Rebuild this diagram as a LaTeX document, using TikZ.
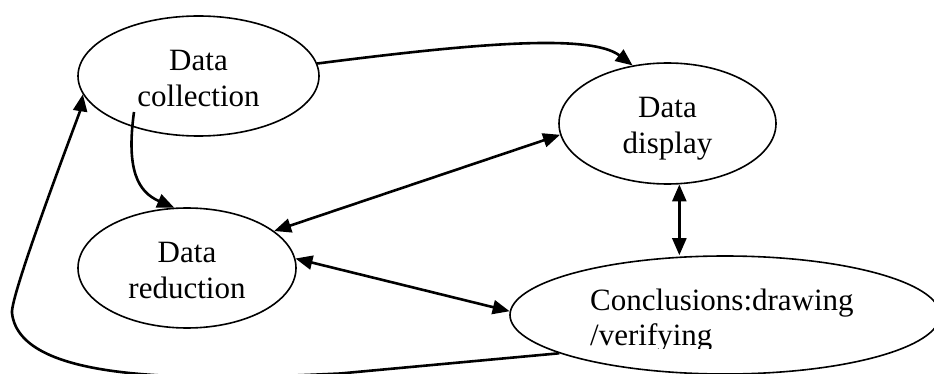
\documentclass[tikz,border=0pt]{standalone}
\usepackage{fontspec}
\setmainfont{Liberation Serif}
\usetikzlibrary{arrows.meta,shapes.geometric,calc}
\begin{document}
\begin{tikzpicture}[x=1pt,y=-1pt,
  ell/.style={draw, ellipse, line width=1.6pt, inner sep=0pt},
  lbl/.style={align=center, font=\fontsize{31}{36}\selectfont, inner sep=0pt},
  conn/.style={line width=2.6pt},
  >={Triangle[length=17pt,width=14pt]}]
\useasboundingbox (0,0) rectangle (934,374);
\fill[white] (0,0) rectangle (934,374);
\clip (0,0) rectangle (934,374);
% ellipses
\node[ell, minimum width=241pt, minimum height=120pt] (coll) at (198.5,76) {};
\node[ell, minimum width=217pt, minimum height=121pt] (disp) at (667.5,123.5) {};
\node[ell, minimum width=218pt, minimum height=120pt] (red) at (187,268) {};
\node[ell, minimum width=430pt, minimum height=118pt] (concl) at (725,315) {};
% texts
\node[lbl] (colltxt) at (198.5,81) {\strut Data\\\strut collection};
\node[lbl] (disptxt) at (667.5,128.5) {\strut Data\\\strut display};
\node[lbl] (redtxt) at (187,273) {\strut Data\\\strut reduction};
\begin{scope}
\clip (0,0) rectangle (934,348);
\node[lbl, anchor=base west] (concltxtA) at (590,310) {Conclusions:drawing};
\node[lbl, anchor=base west] (concltxtB) at (590,345) {/verifying};
\end{scope}
% connectors
\coordinate (cstart) at (134,112);
\draw[conn,->] (coll.6) .. controls (470,44) and (590,33) .. (disp.121);
\draw[conn,->] (cstart) .. controls (126,170) and (138,192) .. (red.102);
\draw[conn,<->] (disp.186) -- (red.23);
\draw[conn,<->] (disp.281) -- (disp.281 |- concl.north);
\draw[conn,<->] (red.5) -- (concl.179);
\draw[conn,->] (concl.193) -- (340,373.5) .. controls (200,380) and (20,385) .. (12,313)
  .. controls (10,295) and (80,112) .. (coll.189);
\end{tikzpicture}
\end{document}
